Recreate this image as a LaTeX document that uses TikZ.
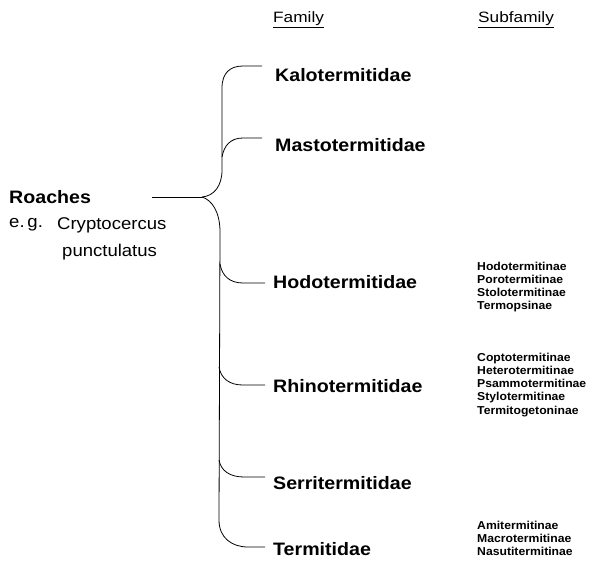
\documentclass[tikz,border=0pt]{standalone}
\usepackage{fontspec}
\setmainfont{Liberation Sans}
\newfontfamily\famfont[FakeStretch=1.09]{Liberation Sans}
\newfontfamily\subfont[FakeStretch=1.06]{Liberation Sans}
\newfontfamily\headfont[FakeStretch=1.15]{Liberation Sans}
\usetikzlibrary{calc}
\tikzset{
  famlabel/.style={anchor=west, inner sep=0pt, font=\famfont\bfseries\fontsize{18}{20}\selectfont},
  headlabel/.style={anchor=west, inner sep=0pt, font=\headfont\fontsize{15}{17}\selectfont},
  eglabel/.style={anchor=west, inner sep=0pt, font=\famfont\fontsize{17}{19}\selectfont},
  sublist/.style={anchor=north west, inner sep=0pt, align=left, font=\subfont\bfseries\fontsize{11.5}{13.3}\selectfont},
  branch/.style={line width=0.8pt, black},
}
\begin{document}
\begin{tikzpicture}[x=1pt, y=-1pt]
\useasboundingbox (0,0) rectangle (589,560);

% headers
\node[headlabel] (famhead) at (273,20) {\underline{Family}};
\node[headlabel] (subhead) at (478,20) {\underline{Subfamily}};

% root
\node[famlabel] (roaches) at (9,197) {Roaches};
\node[eglabel] (eg) at (9,225) {e.\,g.};
\node[eglabel] (crypto) at (57,225) {Cryptocercus};
\node[eglabel] (punct) at (62,252) {punctulatus};

% families
\node[famlabel] (kalo)  at (275,75)  {Kalotermitidae};
\node[famlabel] (masto) at (275,145) {Mastotermitidae};
\node[famlabel] (hodo)  at (273,282) {Hodotermitidae};
\node[famlabel] (rhino) at (273,386) {Rhinotermitidae};
\node[famlabel] (serri) at (273,483) {Serritermitidae};
\node[famlabel] (termi) at (273,549) {Termitidae};

% subfamilies
\node[sublist] (hodosub) at (477,261.5) {Hodotermitinae\\Porotermitinae\\Stolotermitinae\\Termopsinae};
\node[sublist] (rhinosub) at (477,352.5) {Coptotermitinae\\Heterotermitinae\\Psammotermitinae\\Stylotermitinae\\Termitogetoninae};
\node[sublist] (termisub) at (477,520.5) {Amitermitinae\\Macrotermitinae\\Nasutitermitinae};

% connector points
\coordinate (J) at (202,197);
\coordinate (r0) at (152,197);
\coordinate (kaloend)  at ($(kalo.west)+(-13,-9)$);
\coordinate (mastoend) at ($(masto.west)+(-13,-7)$);
\coordinate (hodoend)  at ($(hodo.west)+(-8,1)$);
\coordinate (rhinoend) at ($(rhino.west)+(-8,-1)$);
\coordinate (serriend) at ($(serri.west)+(-8,-6)$);
\coordinate (termiend) at ($(termi.west)+(-8,-2)$);
\coordinate (tm) at (222,157);
\coordinate (th) at (220,264);
\coordinate (tr) at (219,367);
\coordinate (ts) at (219,460);

% tree
\draw[branch] (r0) -- (J);
\draw[branch] (J) .. controls (214,196) and (222,186) .. (222,170) -- (222,88)
  .. controls (222,73) and (230,66) .. (243,66) -- (kaloend);
\draw[branch] (tm) .. controls (224,146) and (230,138) .. (243,138) -- (mastoend);
\draw[branch] (J) .. controls (212,200) and (220,212) .. (220,232) -- (219,520)
  .. controls (219,538) and (232,547) .. (248,547) -- (termiend);
\draw[branch] (th) .. controls (222,276) and (230,283) .. (243,283) -- (hodoend);
\draw[branch] (tr) .. controls (221,379) and (230,385) .. (243,385) -- (rhinoend);
\draw[branch] (ts) .. controls (221,471) and (230,477) .. (244,477) -- (serriend);
\end{tikzpicture}
\end{document}
